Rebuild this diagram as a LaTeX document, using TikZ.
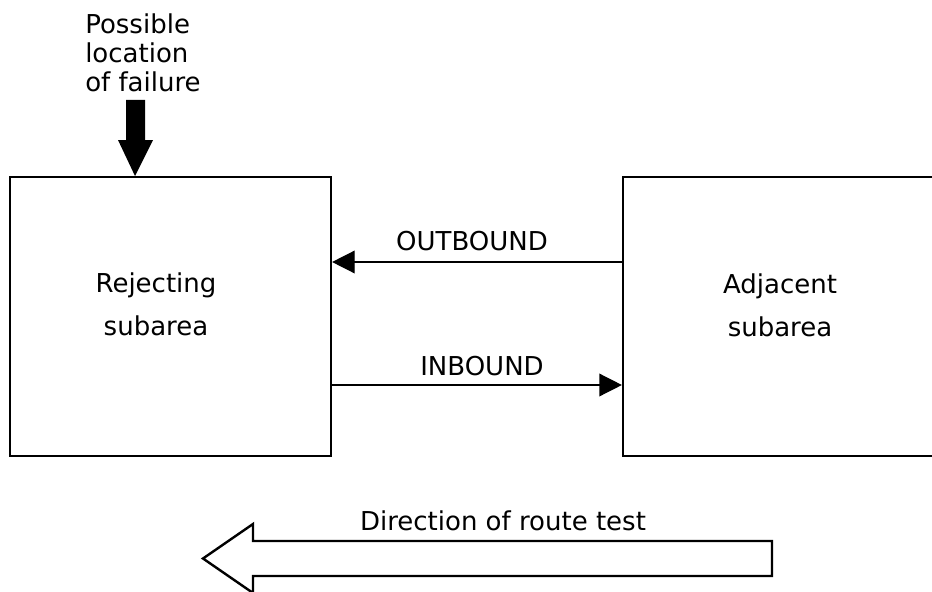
\documentclass[tikz,border=0pt]{standalone}
\usepackage{fontspec}
\setmainfont{DejaVu Sans}
\usetikzlibrary{arrows.meta}
\begin{document}
\begin{tikzpicture}[x=0.75pt,y=-0.75pt,
  box/.style={draw,line width=1.6pt,inner sep=0,minimum height=209.25pt},
  lbl/.style={font=\fontsize{19.5}{32.25}\selectfont,align=center,inner sep=0},
  toplbl/.style={font=\fontsize{19.5}{21.75}\selectfont,align=left,inner sep=0},
  conn/.style={line width=1.1pt,-{Triangle[length=17pt,width=17pt]}},
  bigarrow/.style={draw,line width=1.8pt,line join=miter,fill=white},
  failarrow/.style={fill=black}
]
\useasboundingbox (0,0) rectangle (932,592);
\clip (0,0) rectangle (932,592);
\fill[white] (0,0) rectangle (932,592);

% boxes
\node[box,minimum width=240.75pt] (rej) at (170.5,316.5) {};
\node[box,minimum width=235.5pt] (adj) at (780,316.5) {};

% box labels
\node[lbl,anchor=north] (rejtxt) at (156,272) {Rejecting\\subarea};
\node[lbl,anchor=north] (adjtxt) at (780,273) {Adjacent\\subarea};

% top label and failure arrow
\node[toplbl,anchor=north west] (fail) at (85,13) {Possible\\location\\of failure};
\coordinate (failtip) at (135,176);
\fill[failarrow] (126,100) -- (145,100) -- (145,140) -- (153,140) -- (failtip) -- (118,140) -- (126,140) -- cycle;

% connectors
\coordinate (yout) at (0,262);
\coordinate (yin) at (0,385);
\draw[conn] (adj.west |- yout) -- (rej.east |- yout);
\draw[conn] (rej.east |- yin) -- (adj.west |- yin);
\node[lbl,anchor=base] (outlbl) at (472,250) {OUTBOUND};
\node[lbl,anchor=base] (inlbl) at (482,375) {INBOUND};

% direction arrow
\draw[bigarrow] (772,541) -- (253,541) -- (253,524) -- (203,558.5) -- (253,593) -- (253,576) -- (772,576) -- cycle;
\node[lbl,anchor=base] (dirlbl) at (503,530) {Direction of route test};
\end{tikzpicture}
\end{document}
